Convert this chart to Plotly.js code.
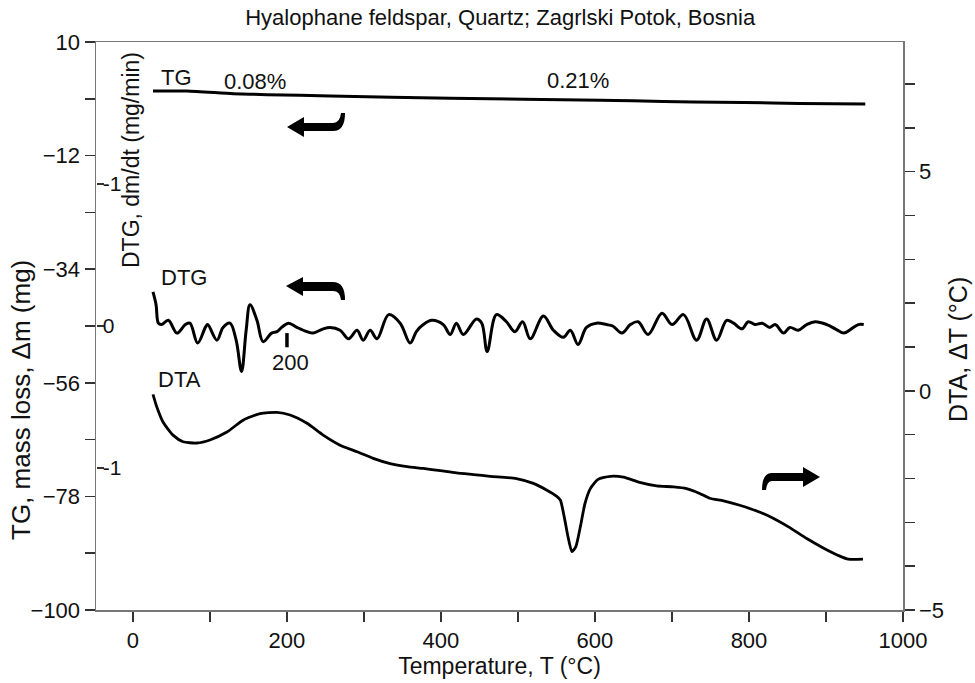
<!DOCTYPE html>
<html><head><meta charset="utf-8">
<script src="https://cdn.plot.ly/plotly-3.0.1.min.js"></script>
<style>html,body{margin:0;padding:0;background:#fff}#chart{width:975px;height:683px}</style>
</head><body><div id="chart"></div>
<script>
// ---- data ----
const tgT = [26,70,130,174,256,412,607,649,728,793,866,951];
const tgMass = [0.5,0.5,0.0,-0.2,-0.45,-0.9,-1.3,-1.4,-1.6,-1.7,-1.9,-2.0];

const dtgT = [26,30,33,37,46,57,68,74,84,94,97,109,117,126,134,141,147,152,161,169,180,187,193,202,213,226,234,247,256,269,280,291,299,308,317,332,347,360,368,377,388,403,412,420,429,446,453,460,472,485,496,506,516,533,546,559,568,578,589,602,615,623,635,646,656,669,687,700,715,732,745,758,771,780,791,799,808,817,827,834,845,853,864,875,886,901,912,923,933,942,949];
const dtgRate = [-0.24,-0.15,-0.02,-0.01,-0.04,0.05,-0.01,-0.02,0.12,0.01,-0.01,0.10,0.01,-0.02,0.10,0.32,0.03,-0.15,-0.04,0.11,0.05,0.04,0.01,-0.02,0.01,0.04,0.05,0.02,0.01,0.03,0.09,0.03,0.10,0.03,0.09,-0.08,-0.02,0.12,0.04,-0.01,-0.04,-0.01,0.06,-0.02,0.06,-0.05,-0.02,0.18,-0.08,-0.03,0.04,-0.03,0.09,-0.07,0.03,0.08,0.03,0.13,0.01,-0.02,-0.01,0.00,0.05,-0.01,-0.03,0.06,-0.09,-0.01,-0.08,0.10,-0.05,0.10,-0.04,-0.02,0.02,-0.03,-0.01,-0.02,0.01,-0.01,0.05,0.01,0.03,-0.01,-0.03,-0.01,0.02,0.05,0.02,-0.01,-0.01];

const dtaT = [26,31,39,52,65,83,100,122,143,165,187,204,226,247,269,291,312,334,356,377,399,420,442,464,498,520,537,550,555,560,565,570,575,581,587,594,604,620,637,658,680,702,719,736,749,767,788,810,832,853,875,897,918,929,948];
const dtaDelta = [-0.08,-0.37,-0.71,-1.01,-1.16,-1.19,-1.12,-0.94,-0.67,-0.52,-0.49,-0.55,-0.74,-1.01,-1.24,-1.39,-1.54,-1.66,-1.73,-1.77,-1.82,-1.87,-1.91,-1.95,-2.00,-2.11,-2.26,-2.40,-2.49,-2.87,-3.33,-3.67,-3.56,-3.10,-2.57,-2.23,-2.02,-1.95,-1.97,-2.09,-2.17,-2.19,-2.23,-2.34,-2.45,-2.51,-2.61,-2.74,-2.91,-3.12,-3.37,-3.59,-3.77,-3.84,-3.84];

const dtgTickVals = [-1, 0, 1];
const dtgTickText = ['-1', '0', '-1'];

// ---- layout helpers ----
const W = 975, H = 683, M = {l: 96, r: 72, t: 42, b: 73};
const pw = W - M.l - M.r, ph = H - M.t - M.b;
const FONT = 'Liberation Sans, Arial, sans-serif';
function P(x, y) { return ((x - M.l) / pw).toFixed(4) + ',' + ((H - M.b - y) / ph).toFixed(4); }
function path(cmds) {
  return cmds.map(c => {
    if (c[0] === 'Z') return 'Z';
    const pts = [];
    for (let i = 1; i < c.length; i += 2) pts.push(P(c[i], c[i + 1]));
    return c[0] + ' ' + pts.join(' ');
  }).join(' ');
}
const arrowTG = path([['M',287,127],['L',304,117],['L',304,123],['L',333,123],['Q',340,123,341,113],['L',345,113],['Q',345,131,333,131],['L',304,131],['L',304,137],['Z']]);
const arrowDTG = path([['M',286,286],['L',303,277],['L',303,282],['L',333,282],['Q',345,282,345,300],['L',341,300],['Q',340,291,333,291],['L',303,291],['L',303,296],['Z']]);
const arrowDTA = path([['M',820,477],['L',803,467],['L',803,473],['L',772,473],['Q',762,473,762,490],['L',766,490],['Q',767,481,772,481],['L',803,481],['L',803,487],['Z']]);

const traces = [
  {x: tgT, y: tgMass, type: 'scatter', mode: 'lines', line: {color: '#000', width: 3, shape: 'spline', smoothing: 0.6}, yaxis: 'y', hoverinfo: 'skip'},
  {x: dtgT, y: dtgRate, type: 'scatter', mode: 'lines', line: {color: '#000', width: 3, shape: 'spline', smoothing: 1.0}, yaxis: 'y3', hoverinfo: 'skip'},
  {x: dtaT, y: dtaDelta, type: 'scatter', mode: 'lines', line: {color: '#000', width: 2.8, shape: 'spline', smoothing: 0.6}, yaxis: 'y2', hoverinfo: 'skip'}
];

const axisCommon = {
  showgrid: false, zeroline: false, showline: true, linecolor: '#777', linewidth: 1.5,
  ticks: 'outside', ticklen: 10, tickwidth: 1.5, tickcolor: '#333',
  tickfont: {family: FONT, size: 22, color: '#111'}
};
const lab = (size) => ({family: FONT, size: size, color: '#111'});

const layout = {
  width: W, height: H,
  margin: M,
  paper_bgcolor: '#fff', plot_bgcolor: '#fff',
  showlegend: false,
  font: {family: FONT, color: '#111'},
  title: {text: 'Hyalophane feldspar, Quartz; Zagrlski Potok, Bosnia', x: 0.513, xanchor: 'center', y: 0.974, yanchor: 'middle', font: lab(22)},
  xaxis: Object.assign({}, axisCommon, {
    range: [-48, 1000], tick0: 0, dtick: 200, mirror: true,
    minor: {dtick: 100, ticks: 'outside', ticklen: 10, tickwidth: 1.5, tickcolor: '#333'},
    title: {text: 'Temperature, T (°C)', font: lab(23), standoff: 4}
  }),
  yaxis: Object.assign({}, axisCommon, {
    range: [-100, 10], tick0: 10, dtick: 22,
    minor: {dtick: 11, tick0: 10, ticks: 'outside', ticklen: 10, tickwidth: 1.5, tickcolor: '#333'}
  }),
  yaxis2: Object.assign({}, axisCommon, {
    overlaying: 'y', side: 'right', anchor: 'x',
    range: [-5, 7.96], tick0: 0, dtick: 5,
    minor: {dtick: 1, ticks: 'outside', ticklen: 10, tickwidth: 1.5, tickcolor: '#333'}
  }),
  yaxis3: {
    overlaying: 'y', side: 'left', anchor: 'free', position: 0,
    range: [2, -2], showgrid: false, zeroline: false, showline: false,
    tickmode: 'array', tickvals: dtgTickVals, ticktext: dtgTickText,
    ticks: 'inside', ticklen: 7, tickwidth: 1.5, tickcolor: '#333',
    ticklabelposition: 'inside', tickfont: lab(21)
  },
  shapes: [
    {type: 'path', xref: 'paper', yref: 'paper', path: arrowTG, fillcolor: '#000', line: {width: 0}},
    {type: 'path', xref: 'paper', yref: 'paper', path: arrowDTG, fillcolor: '#000', line: {width: 0}},
    {type: 'path', xref: 'paper', yref: 'paper', path: arrowDTA, fillcolor: '#000', line: {width: 0}},
    {type: 'line', xref: 'x', yref: 'y3', x0: 200, x1: 200, y0: 0.05, y1: 0.15, line: {color: '#000', width: 3.5}}
  ],
  annotations: [
    {text: 'TG', xref: 'x', yref: 'y', x: 57, y: 3.2, showarrow: false, font: lab(22)},
    {text: '0.08%', xref: 'x', yref: 'y', x: 158, y: 2.3, showarrow: false, font: lab(22)},
    {text: '0.21%', xref: 'x', yref: 'y', x: 578, y: 2.5, showarrow: false, font: lab(22)},
    {text: 'DTG', xref: 'x', yref: 'y', x: 66, y: -35.7, showarrow: false, font: lab(22)},
    {text: 'DTA', xref: 'x', yref: 'y', x: 60, y: -55.3, showarrow: false, font: lab(22)},
    {text: '200', xref: 'x', yref: 'y', x: 204, y: -52, showarrow: false, font: lab(22)},
    {text: 'TG, mass loss, \u0394m (mg)', xref: 'paper', yref: 'paper', x: (21 - M.l) / pw, y: (H - M.b - 400) / ph, textangle: -90, showarrow: false, xanchor: 'center', yanchor: 'middle', font: lab(26)},
    {text: 'DTG, dm/dt (mg/min)', xref: 'paper', yref: 'paper', x: (131 - M.l) / pw, y: (H - M.b - 160) / ph, textangle: -90, showarrow: false, xanchor: 'center', yanchor: 'middle', font: lab(23)},
    {text: 'DTA, \u0394T (°C)', xref: 'paper', yref: 'paper', x: (958 - M.l) / pw, y: (H - M.b - 350) / ph, textangle: -90, showarrow: false, xanchor: 'center', yanchor: 'middle', font: lab(25)}
  ]
};

Plotly.newPlot('chart', traces, layout, {staticPlot: true, displayModeBar: false});
</script>
</body></html>
